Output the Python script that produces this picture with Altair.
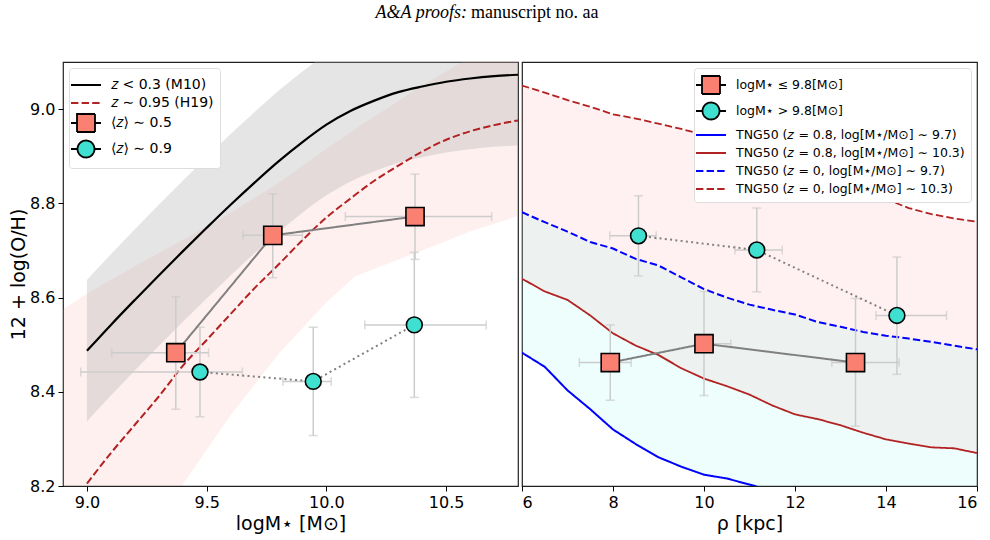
import altair as alt
import pandas as pd

# ---------------- left panel: mass-metallicity relation ----------------
mass_grid = [9.0, 9.1, 9.2, 9.3, 9.4, 9.5, 9.6, 9.7, 9.8, 9.9, 10.0,
             10.1, 10.2, 10.3, 10.4, 10.5, 10.6, 10.7, 10.8]
m10_oh = [8.487, 8.542, 8.595, 8.647, 8.698, 8.748, 8.797, 8.844, 8.889, 8.930,
          8.967, 8.996, 9.018, 9.036, 9.048, 9.058, 9.065, 9.070, 9.073]
m10_scatter = 0.15
h19_oh = [8.205, 8.270, 8.330, 8.390, 8.455, 8.510, 8.565, 8.620, 8.670, 8.722,
          8.770, 8.810, 8.848, 8.880, 8.910, 8.935, 8.953, 8.966, 8.976]

h19_band_mass = [8.9, 9.0, 9.2, 9.4, 9.6, 9.8, 10.0, 10.12, 10.4, 10.6, 10.8]
h19_band_lo = [7.85, 7.92, 8.06, 8.203, 8.35, 8.48, 8.59, 8.645, 8.70, 8.74, 8.773]
h19_band_hi = [8.575, 8.608, 8.667, 8.722, 8.780, 8.843, 8.916, 8.958, 9.05, 9.11, 9.17]

# binned samples (z ~ 0.5 squares, z ~ 0.9 circles)
sq_mass = [9.371, 9.776, 10.370]
sq_mass_lo = [9.103, 9.651, 10.079]
sq_mass_hi = [9.508, 9.900, 10.690]
sq_oh = [8.483, 8.732, 8.772]
sq_oh_lo = [8.363, 8.642, 8.681]
sq_oh_hi = [8.602, 8.820, 8.862]

ci_mass = [9.472, 9.945, 10.367]
ci_mass_lo = [8.974, 9.818, 10.160]
ci_mass_hi = [9.649, 10.020, 10.667]
ci_oh = [8.442, 8.422, 8.542]
ci_oh_lo = [8.347, 8.307, 8.388]
ci_oh_hi = [8.537, 8.537, 8.696]

# ---------------- right panel: metallicity vs impact parameter ----------------
rho_grid = [6.0, 6.5, 7.0, 7.5, 8.0, 8.5, 9.0, 9.5, 10.0, 10.5, 11.0,
            11.5, 12.0, 12.5, 13.0, 13.5, 14.0, 14.5, 15.0, 15.5, 16.0]
tng_z08_m97 = [8.483, 8.453, 8.403, 8.363, 8.320, 8.289, 8.261, 8.241, 8.224, 8.216, 8.203,
               8.190, 8.178, 8.166, 8.155, 8.145, 8.136, 8.128, 8.120, 8.113, 8.106]
tng_z08_m103 = [8.640, 8.613, 8.595, 8.562, 8.524, 8.498, 8.478, 8.450, 8.428, 8.412, 8.394,
                8.371, 8.352, 8.342, 8.329, 8.313, 8.299, 8.290, 8.282, 8.280, 8.270]
tng_z0_m97 = [8.781, 8.760, 8.740, 8.718, 8.704, 8.682, 8.668, 8.643, 8.618, 8.600, 8.585,
              8.574, 8.564, 8.548, 8.538, 8.527, 8.519, 8.513, 8.506, 8.498, 8.490]
tng_z0_m103 = [9.050, 9.035, 9.019, 9.005, 8.989, 8.980, 8.969, 8.958, 8.945, 8.928, 8.911,
               8.888, 8.867, 8.850, 8.837, 8.824, 8.809, 8.790, 8.777, 8.768, 8.761]

lo_rho = [7.94, 10.00, 13.33]
lo_rho_lo = [7.26, 9.85, 12.81]
lo_rho_hi = [8.40, 10.59, 14.29]
lo_oh = [8.462, 8.502, 8.462]
lo_oh_lo = [8.382, 8.392, 8.327]
lo_oh_hi = [8.542, 8.613, 8.598]

hi_rho = [8.56, 11.16, 14.24]
hi_rho_lo = [7.93, 10.68, 13.78]
hi_rho_hi = [8.95, 11.72, 15.33]
hi_oh = [8.731, 8.701, 8.562]
hi_oh_lo = [8.646, 8.612, 8.437]
hi_oh_hi = [8.816, 8.790, 8.686]

legend_left = ["𝑧 < 0.3 (M10)", "𝑧 ∼ 0.95 (H19)", "⟨𝑧⟩ ∼ 0.5", "⟨𝑧⟩ ∼ 0.9"]
legend_right = ["logM⋆  ≤ 9.8[M⊙]", "logM⋆  > 9.8[M⊙]",
                "TNG50 (𝑧 = 0.8, log[M⋆/M⊙] ∼ 9.7)", "TNG50 (𝑧 = 0.8, log[M⋆/M⊙] ∼ 10.3)",
                "TNG50 (𝑧 = 0, log[M⋆/M⊙] ∼ 9.7)", "TNG50 (𝑧 = 0, log[M⋆/M⊙] ∼ 10.3)"]

# ---------------- styling ----------------
FONT = "DejaVu Sans"
SALMON = "#fa8072"
TURQ = "#40e0d0"
FIREBRICK = "#b22222"
BLUE = "#0000ff"
ERR = "#cccccc"
DASH = [7.4, 3.2]
DOT = [2, 3.3]

# legend keys: a marker with a short line through it, and a plain line
SQUARE_KEY = "M-1.5,0H-0.9M0.9,0H1.5M-0.9,-0.9H0.9V0.9H-0.9Z"
CIRCLE_KEY = "M-1.5,0H-0.85M0.85,0H1.5M0.85,0A0.85,0.85 0 1,1 -0.85,0A0.85,0.85 0 1,1 0.85,0Z"
LINE_KEY = "M-1.5,0H1.5"

Y_SCALE = alt.Scale(domain=[8.2, 9.1], nice=False, zero=False)
XL_SCALE = alt.Scale(domain=[8.9, 10.8], nice=False, zero=False)
XR_SCALE = alt.Scale(domain=[6, 16], nice=False, zero=False)

Y_AXIS = alt.Axis(values=[8.2, 8.4, 8.6, 8.8, 9.0], format=".1f", title="12 + log(O/H)",
                  titlePadding=1)
XL_AXIS = alt.Axis(values=[9.0, 9.5, 10.0, 10.5], format=".1f", title="logM⋆ [M⊙]")
XR_AXIS = alt.Axis(values=[6, 8, 10, 12, 14, 16], format="d", title="ρ [kpc]")


def yl(field):
    return alt.Y(field, type="quantitative", scale=Y_SCALE, axis=Y_AXIS)


def yr(field):
    return alt.Y(field, type="quantitative", scale=Y_SCALE, axis=None)


def xl(field):
    return alt.X(field, type="quantitative", scale=XL_SCALE, axis=XL_AXIS)


def xr(field):
    return alt.X(field, type="quantitative", scale=XR_SCALE, axis=XR_AXIS)


def sample_layers(df, xf, yf, shape, fill, dash, size):
    """Error bars, connecting line and markers of one binned sample."""
    base = alt.Chart(df)
    vbar = base.mark_rule(color=ERR, strokeWidth=1.5).encode(
        x=xf("x"), y=yf("ylo"), y2="yhi")
    hbar = base.mark_rule(color=ERR, strokeWidth=1.5).encode(
        x=xf("xlo"), x2="xhi", y=yf("y"))
    cap_lo = base.mark_tick(color=ERR, orient="horizontal", size=9, thickness=1.5).encode(
        x=xf("x"), y=yf("ylo"))
    cap_hi = base.mark_tick(color=ERR, orient="horizontal", size=9, thickness=1.5).encode(
        x=xf("x"), y=yf("yhi"))
    cap_l = base.mark_tick(color=ERR, orient="vertical", size=9, thickness=1.5).encode(
        x=xf("xlo"), y=yf("y"))
    cap_r = base.mark_tick(color=ERR, orient="vertical", size=9, thickness=1.5).encode(
        x=xf("xhi"), y=yf("y"))
    link = base.mark_line(color="#808080", strokeWidth=2, strokeDash=dash).encode(
        x=xf("x"), y=yf("y"), order="order:Q")
    pts = base.mark_point(shape=shape, filled=True, fill=fill, stroke="black",
                          strokeWidth=1.6, size=size, opacity=1).encode(
        x=xf("x"), y=yf("y"))
    return [vbar, hbar, cap_lo, cap_hi, cap_l, cap_r], link, pts


def sample_df(x, xlo, xhi, y, ylo, yhi):
    return pd.DataFrame({"x": x, "xlo": xlo, "xhi": xhi, "y": y, "ylo": ylo,
                         "yhi": yhi, "order": list(range(len(x)))})


def legend_layer(labels, field, shapes, fills, strokes, dashes, orient, font_size):
    leg = alt.Legend(title=None, orient=orient, offset=6, padding=6, rowPadding=0,
                     labelFont=FONT, labelFontSize=font_size, labelOffset=14,
                     symbolSize=400, symbolStrokeWidth=1.8, strokeColor="#dddddd",
                     fillColor="white", cornerRadius=3, labelLimit=400,
                     symbolOpacity=1)
    dom = labels
    return alt.Chart(pd.DataFrame({field: labels})).mark_point(opacity=1).encode(
        shape=alt.Shape(f"{field}:N", scale=alt.Scale(domain=dom, range=shapes), legend=leg),
        fill=alt.Fill(f"{field}:N", scale=alt.Scale(domain=dom, range=fills), legend=leg),
        stroke=alt.Stroke(f"{field}:N", scale=alt.Scale(domain=dom, range=strokes), legend=leg),
        strokeDash=alt.StrokeDash(f"{field}:N", scale=alt.Scale(domain=dom, range=dashes),
                                  legend=leg),
    ).transform_filter("false")


# ---------------- left panel ----------------
m10_df = pd.DataFrame({"mass": mass_grid, "oh": m10_oh})
m10_df["lo"] = m10_df["oh"] - m10_scatter
m10_df["hi"] = m10_df["oh"] + m10_scatter
h19_df = pd.DataFrame({"mass": mass_grid, "oh": h19_oh})
h19_band = pd.DataFrame({"mass": h19_band_mass, "lo": h19_band_lo, "hi": h19_band_hi})

pink_band = alt.Chart(h19_band).mark_area(color="#ff9c9c", opacity=0.15, clip=True).encode(
    x=xl("mass"), y=yl("lo"), y2="hi")
gray_band = alt.Chart(m10_df).mark_area(color="#a8a8a8", opacity=0.3, clip=True,
                                        interpolate="monotone").encode(
    x=xl("mass"), y=yl("lo"), y2="hi")
m10_line = alt.Chart(m10_df).mark_line(color="black", strokeWidth=2.2, clip=True,
                                       interpolate="monotone").encode(
    x=xl("mass"), y=yl("oh"))
h19_line = alt.Chart(h19_df).mark_line(color=FIREBRICK, strokeWidth=2, strokeDash=DASH,
                                       clip=True, interpolate="monotone").encode(
    x=xl("mass"), y=yl("oh"))

sq_err, sq_link, sq_pts = sample_layers(
    sample_df(sq_mass, sq_mass_lo, sq_mass_hi, sq_oh, sq_oh_lo, sq_oh_hi),
    xl, yl, "square", SALMON, [1, 0], 330)
ci_err, ci_link, ci_pts = sample_layers(
    sample_df(ci_mass, ci_mass_lo, ci_mass_hi, ci_oh, ci_oh_lo, ci_oh_hi),
    xl, yl, "circle", TURQ, DOT, 250)

leg_l = legend_layer(legend_left, "entry_l",
                     [LINE_KEY, LINE_KEY, SQUARE_KEY, CIRCLE_KEY],
                     ["transparent", "transparent", SALMON, TURQ],
                     ["black", FIREBRICK, "black", "black"],
                     [[1, 0], DASH, [1, 0], [1, 0]], "top-left", 14)

head = pd.DataFrame({"k": [0]})
head_it = alt.Chart(head).mark_text(font="Liberation Serif", fontStyle="italic", fontSize=18,
                                    align="right", baseline="middle").encode(
    x=alt.value(404), y=alt.value(-49), text=alt.value("A&A proofs:"))
head_rm = alt.Chart(head).mark_text(font="Liberation Serif", fontSize=18,
                                    align="left", baseline="middle").encode(
    x=alt.value(408), y=alt.value(-49), text=alt.value("manuscript no. aa"))

left = alt.layer(pink_band, gray_band, m10_line, h19_line, *sq_err, *ci_err,
                 sq_link, ci_link, sq_pts, ci_pts, leg_l, head_it, head_rm
                 ).properties(width=455, height=424)

# ---------------- right panel ----------------
tng = pd.DataFrame({"rho": rho_grid, "z08_97": tng_z08_m97, "z08_103": tng_z08_m103,
                    "z0_97": tng_z0_m97, "z0_103": tng_z0_m103})

pink_r = alt.Chart(tng).mark_area(color="#ff9c9c", opacity=0.14, clip=True).encode(
    x=xr("rho"), y=yr("z08_103"), y2="z0_103")
cyan_r = alt.Chart(tng).mark_area(color="#7ff5ec", opacity=0.14, clip=True).encode(
    x=xr("rho"), y=yr("z08_97"), y2="z0_97")


def tng_line(col, color, dash, width):
    return alt.Chart(tng).mark_line(color=color, strokeWidth=width, strokeDash=dash,
                                    clip=True).encode(x=xr("rho"), y=yr(col))


lines_r = [tng_line("z08_97", BLUE, [1, 0], 2), tng_line("z08_103", FIREBRICK, [1, 0], 1.8),
           tng_line("z0_97", BLUE, DASH, 2), tng_line("z0_103", FIREBRICK, DASH, 1.8)]

lo_err, lo_link, lo_pts = sample_layers(
    sample_df(lo_rho, lo_rho_lo, lo_rho_hi, lo_oh, lo_oh_lo, lo_oh_hi),
    xr, yr, "square", SALMON, [1, 0], 330)
hi_err, hi_link, hi_pts = sample_layers(
    sample_df(hi_rho, hi_rho_lo, hi_rho_hi, hi_oh, hi_oh_lo, hi_oh_hi),
    xr, yr, "circle", TURQ, DOT, 250)

leg_r = legend_layer(legend_right, "entry_r",
                     [SQUARE_KEY, CIRCLE_KEY, LINE_KEY, LINE_KEY, LINE_KEY, LINE_KEY],
                     [SALMON, TURQ, "transparent", "transparent", "transparent", "transparent"],
                     ["black", "black", BLUE, FIREBRICK, BLUE, FIREBRICK],
                     [[1, 0], [1, 0], [1, 0], [1, 0], DASH, DASH], "top-right", 12.5)

right = alt.layer(pink_r, cyan_r, *lines_r, *lo_err, *hi_err, lo_link, hi_link,
                  lo_pts, hi_pts, leg_r).properties(width=455, height=424)

chart = alt.hconcat(left, right, spacing=4, bounds="flush", background="white",
                    padding={"left": 8, "top": 3, "right": 5, "bottom": 5}
                    ).resolve_scale(
    x="independent", shape="independent", fill="independent",
    stroke="independent", strokeDash="independent"
).configure_view(stroke="#222222", strokeWidth=1.2).configure_axis(
    domain=False, grid=False, tickColor="black", tickSize=5, tickWidth=1,
    labelFont=FONT, labelFontSize=16, labelColor="black", labelPadding=3,
    titleFont=FONT, titleFontSize=19, titleFontWeight="normal", titleColor="black",
    titlePadding=4
)

chart.save("out.html", embed_options={"renderer": "svg", "actions": False})
